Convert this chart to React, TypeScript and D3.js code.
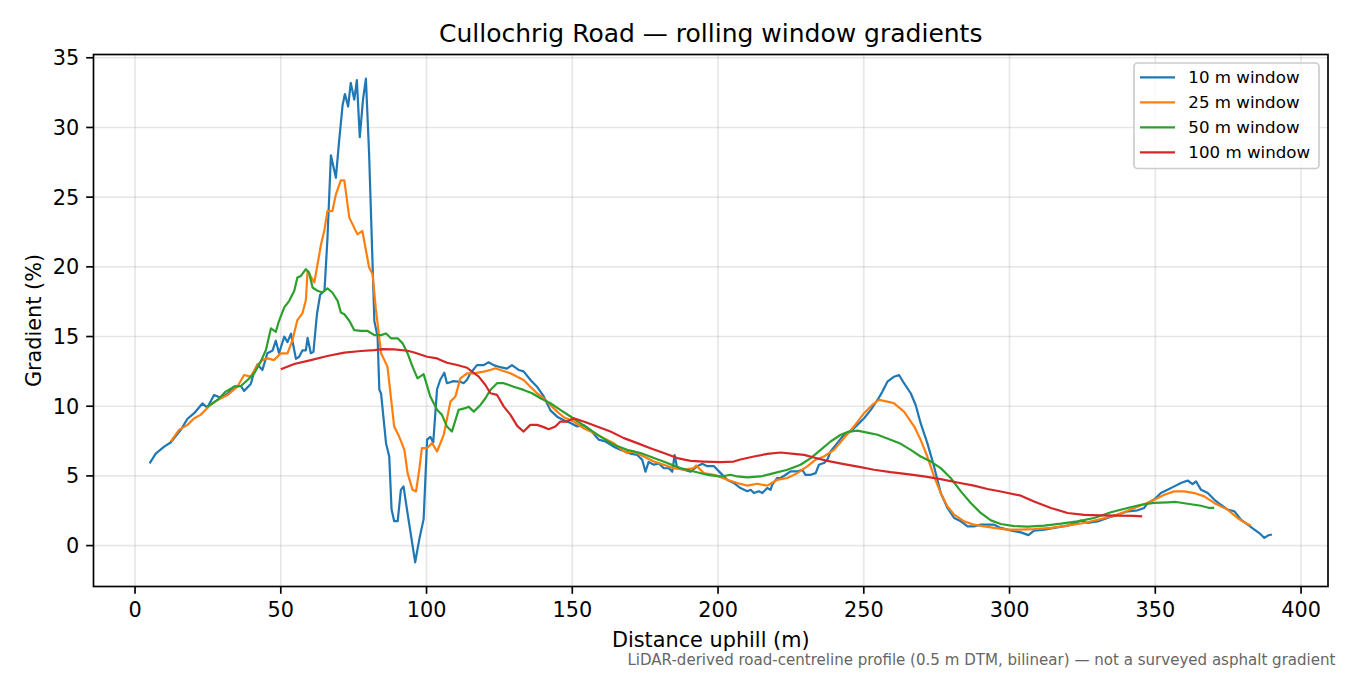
import React from "react";
import * as d3 from "d3";

type Pt = [number, number];

const win10: Pt[] = [
  [5, 5.9], [7.1, 6.6], [10, 7.1], [12.2, 7.4], [15.7, 8.3], [18, 9.1], [20.3, 9.5], [23.1, 10.2], [24.8, 9.9],
  [27.1, 10.8], [29.4, 10.6], [31.7, 10.9], [34, 11.4], [36.3, 11.45], [37.4, 11.1], [39.7, 11.6], [40.9, 12.5],
  [42, 13.0], [43.7, 12.6], [45.4, 13.8], [47.2, 14.0], [48.3, 14.7], [49.4, 13.8], [51.2, 15.0], [52.3, 14.6],
  [53.5, 15.2], [55.2, 13.4], [56.3, 13.55], [57.4, 14.0], [58.6, 14.0], [59.2, 14.9], [60.3, 13.8], [61.2, 13.9],
  [62.4, 16.6], [63.5, 18.0], [65, 18.3], [66, 22], [67.2, 28.0], [68.9, 26.4], [70, 29], [71.2, 31.6], [72, 32.4],
  [73.1, 31.5], [74, 33.2], [75.2, 32.0], [76.1, 33.4], [77.1, 29.3], [78.2, 32], [79.2, 33.5], [80.3, 28.1],
  [82.1, 16.1], [83.2, 15.0], [83.8, 11.2], [84.4, 10.9], [86.1, 7.35], [87.2, 6.4], [88, 2.6], [88.9, 1.75],
  [90.1, 1.75], [91.2, 4.0], [92.1, 4.25], [93.5, 2.3], [96.1, -1.2], [97.5, 0.43], [99, 1.9], [100.2, 7.6],
  [101.3, 7.8], [102.3, 7.4], [103.6, 11.2], [104.7, 11.9], [106.1, 12.4], [107, 11.65], [109.3, 11.8],
  [111.6, 11.75], [112.7, 11.65], [113.9, 11.9], [115, 12.35], [117.3, 12.95], [119.6, 12.95], [121.3, 13.15],
  [123, 12.95], [125.3, 12.8], [127.6, 12.7], [129.3, 12.95], [131.6, 12.6], [133.3, 12.5], [135.6, 11.9],
  [137.9, 11.4], [140.2, 10.7], [142.5, 9.7], [144.8, 9.25], [147.1, 9.0], [149.4, 8.8], [151.7, 8.55],
  [153.9, 8.65], [156.2, 8.3], [159.1, 7.6], [161.4, 7.47], [164.2, 7.1], [166.5, 6.87], [170, 6.6], [172.3, 6.5],
  [174, 6.15], [175.1, 5.3], [176.2, 6.0], [178, 5.8], [179.7, 5.9], [181.4, 5.55], [183.1, 5.55], [184.3, 5.3],
  [185.1, 6.5], [186, 5.55], [188.3, 5.45], [190.6, 5.3], [192.9, 5.7], [194.6, 5.87], [196.3, 5.7], [198.6, 5.7],
  [200.9, 5.2], [203.2, 4.7], [205.4, 4.5], [207.7, 4.13], [210, 3.9], [211.2, 4.0], [212.3, 3.77], [214, 3.9],
  [215.2, 3.77], [216.9, 4.13], [218, 4.0], [218.6, 4.37], [220.3, 4.85], [221.5, 4.85], [223.2, 5.08],
  [224.9, 5.32], [227.2, 5.32], [228.9, 5.44], [230, 5.08], [231.8, 5.08], [233.5, 5.2], [234.6, 5.8],
  [236.3, 5.92], [237.5, 6.16], [238.6, 6.75], [240.9, 7.35], [243.2, 7.95], [245.5, 8.18], [247.8, 8.66],
  [250.1, 9.14], [252.4, 9.74], [254.7, 10.45], [256.4, 11.05], [258.1, 11.76], [260.4, 12.12], [262.1, 12.24],
  [263.8, 11.65], [266.1, 10.93], [267.8, 10.09], [269.5, 8.78], [271.8, 7.35], [274.1, 5.68], [276.4, 3.77],
  [278.7, 2.7], [281, 1.98], [283.3, 1.74], [285.6, 1.38], [287.8, 1.38], [290.1, 1.5], [292.4, 1.5],
  [294.7, 1.5], [297, 1.27], [299.3, 1.15], [301.6, 1.03], [303.9, 0.95], [306.5, 0.75], [308.4, 1.07],
  [311.9, 1.15], [315.3, 1.27], [319.9, 1.43], [324.5, 1.79], [326.8, 1.62], [330.2, 1.74], [333.6, 1.98],
  [337.1, 2.22], [340.5, 2.46], [343.9, 2.53], [346.2, 2.7], [347.4, 3.06], [349.6, 3.3], [351.9, 3.77],
  [354.2, 4.0], [356.5, 4.25], [358.8, 4.49], [361.1, 4.67], [362.8, 4.41], [364, 4.6], [365.7, 4.0],
  [368, 3.77], [370.2, 3.3], [372.5, 2.93], [374.8, 2.58], [377.1, 2.46], [379.4, 1.86], [381.7, 1.5],
  [384, 1.15], [385.7, 0.9], [387.4, 0.55], [388.6, 0.72], [390, 0.8],
];

const win25: Pt[] = [
  [12.3, 7.47], [15.1, 8.3], [18, 8.66], [20.3, 9.14], [22.5, 9.38], [25.4, 10.0], [28.3, 10.45], [31.7, 10.8],
  [35.1, 11.4], [37.4, 12.24], [39.7, 12.12], [42, 12.96], [43.7, 13.31], [45.4, 13.43], [47.7, 13.31], [50, 13.79],
  [52.3, 13.79], [54, 14.75], [55.7, 16.18], [57.4, 16.66], [58.6, 17.6], [59.2, 19.7], [61.5, 18.88], [63.8, 21.6],
  [64.9, 22.57], [66, 24.0], [67.7, 24.0], [68.9, 25.2], [70.6, 26.2], [71.8, 26.2], [73.5, 23.53], [76.3, 22.33],
  [78, 22.57], [80.3, 19.95], [81.5, 19.47], [82.6, 17.0], [84.4, 13.8], [86.6, 12.84], [88.9, 8.54], [90.6, 7.82],
  [92.4, 6.87], [93.5, 5.2], [95.2, 4.0], [96.4, 3.89], [97.5, 5.44], [98.4, 7.0], [100.2, 7.0], [101.9, 7.35],
  [103.6, 6.75], [105.9, 7.95], [108.2, 10.33], [109.9, 10.69], [111.6, 12.0], [113.9, 12.36], [116.2, 12.36],
  [119.6, 12.48], [121.9, 12.6], [123.6, 12.72], [125.3, 12.6], [128.8, 12.36], [131.1, 12.12], [133.3, 11.88],
  [135.6, 11.4], [137.9, 10.93], [140.2, 10.57], [142.5, 10.09], [144.8, 9.61], [147.1, 9.21], [150.5, 8.9],
  [153.9, 8.42], [157.4, 8.07], [160.8, 7.71], [164.2, 7.35], [167.1, 6.87], [168.8, 6.64], [171.1, 6.75],
  [174.5, 6.39], [178, 6.03], [181.4, 5.8], [184.8, 5.56], [188.3, 5.44], [191.7, 5.56], [192.5, 5.75],
  [195.1, 5.2], [198.6, 5.08], [203.2, 4.72], [206.6, 4.49], [210, 4.3], [213.5, 4.44], [216.9, 4.3],
  [220.3, 4.72], [223.8, 4.85], [227.2, 5.2], [230.6, 5.68], [233.5, 6.16], [236.3, 6.39], [239.8, 6.87],
  [243.2, 7.71], [246.6, 8.54], [250.1, 9.5], [252.9, 10.09], [255.2, 10.45], [258.1, 10.33], [260.4, 10.21],
  [263.8, 9.61], [267.3, 8.54], [269.5, 7.59], [271.8, 6.39], [274.1, 4.96], [276.4, 3.77], [278.7, 2.81],
  [281, 2.22], [284.4, 1.74], [287.8, 1.5], [291.3, 1.38], [294.7, 1.27], [299.3, 1.15], [303.9, 1.15],
  [308.4, 1.18], [314.2, 1.27], [319.9, 1.43], [325.6, 1.62], [331.3, 1.91], [337.1, 2.22], [342.8, 2.7],
  [348.5, 3.17], [353.1, 3.65], [356.5, 3.89], [359.9, 3.89], [363.4, 3.77], [366.8, 3.53], [370.2, 3.06],
  [374.8, 2.58], [378.2, 1.98], [380.5, 1.67], [382.8, 1.43],
];

const win50: Pt[] = [
  [24.8, 9.97], [28.3, 10.45], [31.1, 11.05], [34, 11.4], [36.3, 11.45], [38.6, 11.88], [40.9, 12.36],
  [43.1, 13.19], [44.9, 14.03], [46.6, 15.58], [48.3, 15.34], [49.4, 16.13], [51.2, 17.09], [52.9, 17.56],
  [54.6, 18.27], [55.7, 19.23], [56.9, 19.35], [58.6, 19.83], [59.7, 19.59], [60.9, 18.52], [62.6, 18.28],
  [64.3, 18.16], [66, 18.45], [67.7, 18.16], [69.5, 17.56], [70.6, 16.73], [71.8, 16.6], [73.5, 16.13],
  [75.2, 15.46], [77.5, 15.4], [79.8, 15.4], [82.1, 15.1], [84.4, 15.1], [86.1, 15.22], [87.8, 14.87],
  [90.1, 14.87], [91.8, 14.51], [93.5, 13.79], [95.2, 12.84], [96.9, 12.0], [99, 12.3], [101.3, 10.69],
  [103.6, 9.74], [105.3, 9.38], [107, 8.54], [108.7, 8.18], [111, 9.74], [113.3, 9.86], [114.4, 9.97],
  [116.2, 9.61], [118.5, 10.09], [120.2, 10.57], [121.9, 11.17], [124.2, 11.65], [126.5, 11.65], [129.9, 11.4],
  [133.3, 11.17], [136.2, 10.93], [139.1, 10.57], [142.5, 10.21], [145.9, 9.74], [149.4, 9.26], [152.8, 8.78],
  [156.2, 8.3], [159.7, 7.82], [164.2, 7.23], [168.8, 6.87], [173.4, 6.64], [178, 6.28], [182.6, 5.92],
  [187.1, 5.56], [191.7, 5.32], [196.3, 5.08], [200.9, 4.96], [204.3, 5.08], [206.6, 4.96], [210, 4.89],
  [214.6, 4.96], [219.2, 5.2], [223.8, 5.44], [228.3, 5.8], [231.8, 6.28], [235.2, 6.87], [238.6, 7.47],
  [242.1, 7.95], [244.9, 8.18], [247.8, 8.25], [251.2, 8.11], [254.7, 7.95], [259.2, 7.59], [262.7, 7.3],
  [266.1, 6.87], [269.5, 6.39], [273, 6.03], [276.4, 5.56], [279.8, 4.85], [283.3, 3.89], [286.7, 3.06],
  [290.1, 2.34], [293.6, 1.81], [297, 1.55], [301.6, 1.4], [306.2, 1.36], [311.9, 1.43], [317.6, 1.57],
  [323.3, 1.74], [329, 1.98], [334.8, 2.39], [340.5, 2.7], [345.1, 2.93], [349.6, 3.06], [354.2, 3.1],
  [357.1, 3.13], [361.1, 3.0], [365.7, 2.86], [368.5, 2.7], [370.2, 2.7],
];

const win100: Pt[] = [
  [50, 12.65], [54.6, 13.03], [60.3, 13.31], [66, 13.6], [71.8, 13.84], [77.5, 13.96], [82.1, 14.03],
  [84.9, 14.1], [88.9, 14.08], [93.5, 13.98], [95.8, 13.85], [100.2, 13.55], [103.6, 13.43], [107, 13.12],
  [110.5, 12.96], [113.9, 12.76], [115.6, 12.48], [117.9, 12.12], [120.2, 11.52], [121.9, 10.93], [124.2, 10.81],
  [126.5, 9.97], [128.8, 9.38], [131.1, 8.59], [133.3, 8.18], [135.6, 8.66], [137.9, 8.66], [140.2, 8.5],
  [141.9, 8.35], [144.2, 8.54], [145.9, 8.9], [148.2, 8.9], [150.5, 9.14], [153.9, 8.9], [158.5, 8.54],
  [163.1, 8.18], [167.7, 7.71], [172.3, 7.35], [176.8, 6.99], [181.4, 6.64], [186, 6.28], [190.6, 6.08],
  [195.1, 6.03], [200.9, 5.99], [205.4, 6.03], [207.7, 6.18], [212.3, 6.39], [216.9, 6.58], [221.5, 6.68],
  [226, 6.58], [229.5, 6.51], [232.9, 6.32], [237.5, 6.08], [243.2, 5.85], [248.9, 5.63], [253.5, 5.44],
  [259.2, 5.27], [264.9, 5.13], [270.7, 4.96], [276.4, 4.77], [282.1, 4.53], [287.8, 4.3], [292.4, 4.06],
  [297, 3.88], [303.9, 3.58], [308.4, 3.17], [314.2, 2.7], [319.9, 2.34], [325.6, 2.2], [331.3, 2.17],
  [337.1, 2.15], [342.8, 2.13], [345.5, 2.1],
];

const seriesNames = ["10 m window", "25 m window", "50 m window", "100 m window"];
const seriesColors = ["#1f77b4", "#ff7f0e", "#2ca02c", "#d62728"];
const allSeries = [win10, win25, win50, win100];

const xTicks = [0, 50, 100, 150, 200, 250, 300, 350, 400];
const yTicks = [0, 5, 10, 15, 20, 25, 30, 35];

const titleText = "Cullochrig Road \u2014 rolling window gradients";
const xLabel = "Distance uphill (m)";
const yLabel = "Gradient (%)";
const footnote =
  "LiDAR-derived road-centreline profile (0.5 m DTM, bilinear) \u2014 not a surveyed asphalt gradient";

const W = 1350;
const H = 675;
const L = 93.5;
const R = 1328;
const T = 54.5;
const B = 586.5;
const FONT = "'DejaVu Sans', sans-serif";

export default function App() {
  const all = allSeries.flat();
  const [x0, x1] = d3.extent(all, (d) => d[0]) as [number, number];
  const [y0, y1] = d3.extent(all, (d) => d[1]) as [number, number];
  const mx = (x1 - x0) * 0.05;
  const my = (y1 - y0) * 0.05;
  const x = d3.scaleLinear().domain([x0 - mx, x1 + mx]).range([L, R]);
  const y = d3.scaleLinear().domain([y0 - my, y1 + my]).range([B, T]);
  const line = d3
    .line<Pt>()
    .x((d) => x(d[0]))
    .y((d) => y(d[1]));

  const tickLen = 7.3;
  const legendX = 1134;
  const legendY = 63;
  const legendRow = 25;

  return (
    <svg
      width={W}
      height={H}
      viewBox={`0 0 ${W} ${H}`}
      style={{ position: "absolute", left: 0, top: 0, background: "#fff" }}
      fontFamily={FONT}
    >
      <rect x={0} y={0} width={W} height={H} fill="#fff" />
      <defs>
        <clipPath id="plotclip">
          <rect x={L} y={T} width={R - L} height={B - T} />
        </clipPath>
      </defs>
      {/* grid */}
      <g stroke="#b0b0b0" strokeOpacity={0.3} strokeWidth={1.67}>
        {xTicks.map((t) => (
          <line key={"gx" + t} x1={x(t)} x2={x(t)} y1={T} y2={B} />
        ))}
        {yTicks.map((t) => (
          <line key={"gy" + t} x1={L} x2={R} y1={y(t)} y2={y(t)} />
        ))}
      </g>
      {/* series */}
      <g clipPath="url(#plotclip)" fill="none" strokeWidth={2.2} strokeLinejoin="round" strokeLinecap="butt">
        {allSeries.map((s, i) => (
          <path key={i} d={line(s) || ""} stroke={seriesColors[i]} />
        ))}
      </g>
      {/* spines */}
      <rect x={L} y={T} width={R - L} height={B - T} fill="none" stroke="#000" strokeWidth={1.67} />
      {/* x ticks */}
      <g>
        {xTicks.map((t) => (
          <g key={"xt" + t}>
            <line x1={x(t)} x2={x(t)} y1={B} y2={B + tickLen} stroke="#000" strokeWidth={1.67} />
            <text x={x(t)} y={617} textAnchor="middle" fontSize={20.8} fill="#000">
              {t}
            </text>
          </g>
        ))}
      </g>
      {/* y ticks */}
      <g>
        {yTicks.map((t) => (
          <g key={"yt" + t}>
            <line x1={L - tickLen} x2={L} y1={y(t)} y2={y(t)} stroke="#000" strokeWidth={1.67} />
            <text x={L - tickLen - 7} y={y(t)} dy="0.36em" textAnchor="end" fontSize={20.8} fill="#000">
              {t}
            </text>
          </g>
        ))}
      </g>
      {/* labels */}
      <text x={(L + R) / 2} y={42} textAnchor="middle" fontSize={25} fill="#000">
        {titleText}
      </text>
      <text x={(L + R) / 2} y={647} textAnchor="middle" fontSize={20.8} fill="#000">
        {xLabel}
      </text>
      <text
        transform={`translate(41, ${(T + B) / 2}) rotate(-90)`}
        textAnchor="middle"
        fontSize={20.8}
        fill="#000"
      >
        {yLabel}
      </text>
      <text x={1335.5} y={665} textAnchor="end" fontSize={15.05} fill="#666">
        {footnote}
      </text>
      {/* legend */}
      <g>
        <rect
          x={legendX}
          y={legendY}
          width={185}
          height={105.5}
          rx={3.5}
          fill="#fff"
          fillOpacity={0.8}
          stroke="#cccccc"
          strokeWidth={1.67}
        />
        {seriesNames.map((n, i) => (
          <g key={n} transform={`translate(0, ${77.3 + i * legendRow})`}>
            <line x1={1140} x2={1175} y1={0} y2={0} stroke={seriesColors[i]} strokeWidth={2.2} />
            <text x={1188.3} y={0} dy="0.36em" fontSize={16.67} fill="#000">
              {n}
            </text>
          </g>
        ))}
      </g>
    </svg>
  );
}
